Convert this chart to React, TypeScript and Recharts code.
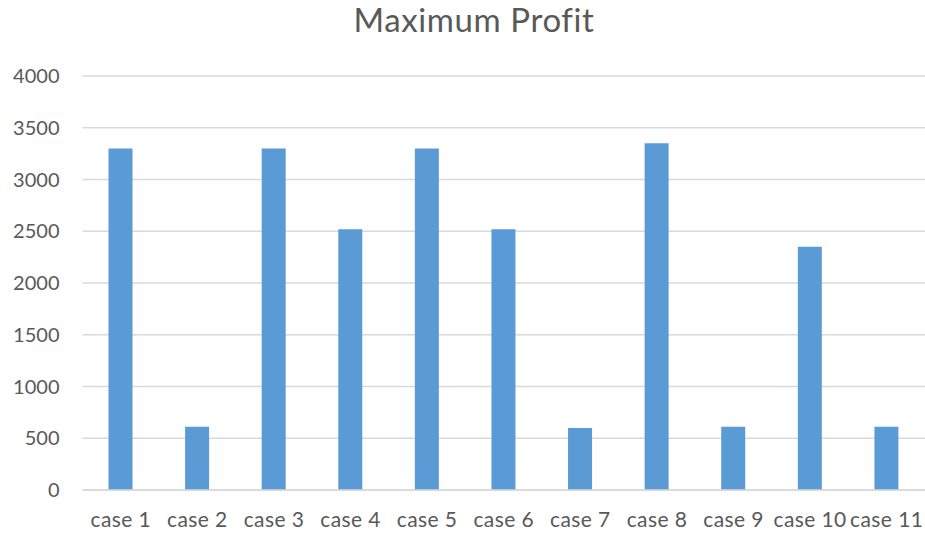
import { BarChart, Bar, XAxis, YAxis, CartesianGrid } from "recharts";

const cases = [
  "case 1",
  "case 2",
  "case 3",
  "case 4",
  "case 5",
  "case 6",
  "case 7",
  "case 8",
  "case 9",
  "case 10",
  "case 11",
];
const profit = [3300, 610, 3300, 2520, 3300, 2520, 600, 3350, 610, 2350, 610];
const yTicks = [0, 500, 1000, 1500, 2000, 2500, 3000, 3500, 4000];

const data = cases.map((name, i) => ({ name, profit: profit[i] }));

const FONT = "Lato, 'Open Sans', sans-serif";
const GREY = "#595959";

const App = () => {
  return (
    <div
      style={{
        position: "absolute",
        left: 0,
        top: 0,
        width: 925,
        height: 535,
        background: "#fff",
        fontFamily: FONT,
      }}
    >
      {/* title sits above the plot */}
      <div
        style={{
          position: "absolute",
          left: 0,
          width: 948,
          top: -1,
          textAlign: "center",
          fontSize: 33,
          letterSpacing: 0.6,
          color: GREY,
        }}
      >
        Maximum Profit
      </div>
      <BarChart
        width={925}
        height={535}
        data={data}
        margin={{ top: 76, right: 0, bottom: 5, left: 0 }}
      >
        <CartesianGrid vertical={false} stroke="#d9d9d9" strokeWidth={1.3} />
        <XAxis
          dataKey="name"
          tickLine={false}
          axisLine={{ stroke: "#d9d9d9", strokeWidth: 1.3 }}
          tick={{ fill: GREY, fontSize: 21, fontFamily: FONT, letterSpacing: 0.4 }}
          tickMargin={16}
          height={40}
          interval={0}
        />
        <YAxis
          domain={[0, 4000]}
          ticks={yTicks}
          tickLine={false}
          axisLine={false}
          tick={{ fill: GREY, fontSize: 20, fontFamily: FONT }}
          tickMargin={17}
          width={82.5}
        />
        <Bar
          dataKey="profit"
          fill="#5b9bd5"
          barSize={24}
          isAnimationActive={false}
        />
      </BarChart>
    </div>
  );
};

export default App;
